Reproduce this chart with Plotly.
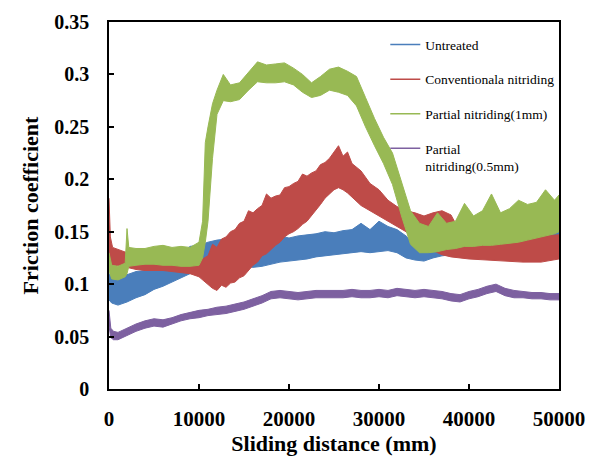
import plotly.graph_objects as go

# ---------------- data ----------------
# Each series is a noisy band: lower and upper envelope of the recorded signal
untreated_x = [0, 300, 1000, 2000, 3000, 4000, 5000, 6000, 7000, 8000, 9000, 10000,
               11000, 12000, 13000, 14000, 15000, 16000, 17000, 18000, 19000, 20000,
               21000, 22000, 23000, 24000, 25000, 26000, 27000, 28000, 29000, 30000,
               31000, 32000, 33000, 34000, 35000, 36000, 37000, 38000, 40000, 42000,
               44000, 46000, 48000, 50000]
untreated_lo = [0.085, 0.082, 0.080, 0.083, 0.087, 0.090, 0.095, 0.098, 0.102, 0.106, 0.110, 0.114,
                0.117, 0.118, 0.118, 0.117, 0.117, 0.116, 0.117, 0.119, 0.121, 0.122,
                0.123, 0.124, 0.126, 0.127, 0.128, 0.129, 0.130, 0.131, 0.130, 0.131,
                0.132, 0.130, 0.125, 0.123, 0.122, 0.125, 0.127, 0.128, 0.130, 0.131,
                0.132, 0.133, 0.134, 0.135]
untreated_hi = [0.110, 0.108, 0.107, 0.109, 0.112, 0.113, 0.115, 0.117, 0.120, 0.128, 0.136, 0.137,
                0.140, 0.142, 0.143, 0.145, 0.146, 0.148, 0.147, 0.145, 0.146, 0.144,
                0.146, 0.147, 0.148, 0.150, 0.149, 0.151, 0.152, 0.158, 0.152, 0.160,
                0.155, 0.152, 0.146, 0.138, 0.134, 0.136, 0.138, 0.140, 0.142, 0.143,
                0.145, 0.146, 0.148, 0.152]

conv_x = [0, 150, 400, 1000, 2000, 3000, 4000, 5000, 6000, 7000, 8000, 9000, 10000,
          11000, 11500, 12000, 12500, 13000, 13500, 14000, 14500, 15000, 15500, 16000,
          16500, 17000, 17500, 18000, 18500, 19000, 19500, 20000, 20500, 21000, 21500,
          22000, 22500, 23000, 23500, 24000, 24500, 25000, 25500, 26000, 26500, 27000,
          28000, 29000, 30000, 31000, 32000, 33000, 34000, 35000, 36000, 37000, 38000,
          39000, 40000, 42000, 44000, 46000, 48000, 50000]
conv_lo = [0.130, 0.120, 0.117, 0.118, 0.116, 0.114, 0.113, 0.113, 0.113, 0.112, 0.111, 0.110, 0.107,
           0.100, 0.096, 0.094, 0.099, 0.097, 0.101, 0.102, 0.106, 0.108, 0.113, 0.118,
           0.121, 0.127, 0.129, 0.133, 0.137, 0.140, 0.145, 0.148, 0.150, 0.153, 0.157,
           0.160, 0.165, 0.170, 0.176, 0.182, 0.186, 0.190, 0.192, 0.190, 0.187, 0.183,
           0.175, 0.170, 0.165, 0.160, 0.155, 0.150, 0.145, 0.138, 0.132, 0.128, 0.126,
           0.125, 0.124, 0.123, 0.122, 0.121, 0.121, 0.124]
conv_hi = [0.182, 0.145, 0.135, 0.133, 0.130, 0.125, 0.125, 0.126, 0.124, 0.125, 0.124, 0.123, 0.122,
           0.127, 0.138, 0.135, 0.143, 0.145, 0.150, 0.152, 0.158, 0.160, 0.170, 0.168,
           0.172, 0.175, 0.186, 0.182, 0.184, 0.185, 0.192, 0.193, 0.196, 0.198, 0.205,
           0.203, 0.206, 0.208, 0.214, 0.216, 0.220, 0.226, 0.232, 0.222, 0.226, 0.215,
           0.208, 0.196, 0.190, 0.180, 0.174, 0.170, 0.168, 0.165, 0.168, 0.170, 0.166,
           0.150, 0.145, 0.146, 0.145, 0.147, 0.146, 0.147]

p1_x = [0, 300, 1000, 1800, 2000, 2200, 3000, 4000, 5000, 6000, 7000, 8000, 9000, 10000,
        10400, 10700, 11000, 11500, 12000, 12700, 13500, 14500, 15500, 16500, 17500,
        18500, 19500, 20500, 21500, 22500, 23500, 24500, 25500, 26500, 27500, 28500,
        29500, 30500, 31500, 32500, 33500, 34500, 35500, 36500, 37500, 38500, 39500,
        40500, 41500, 42500, 43500, 44500, 45500, 46500, 47500, 48500, 49500, 50000]
p1_lo = [0.113, 0.105, 0.104, 0.107, 0.110, 0.117, 0.118, 0.119, 0.119, 0.118, 0.118, 0.117, 0.117, 0.118,
         0.125, 0.140, 0.160, 0.220, 0.262, 0.275, 0.274, 0.276, 0.285, 0.293, 0.292,
         0.292, 0.293, 0.290, 0.283, 0.278, 0.280, 0.285, 0.283, 0.280, 0.270, 0.250,
         0.232, 0.215, 0.195, 0.165, 0.138, 0.130, 0.130, 0.131, 0.133, 0.134, 0.136,
         0.136, 0.137, 0.137, 0.138, 0.139, 0.140, 0.142, 0.144, 0.146, 0.148, 0.150]
p1_hi = [0.130, 0.118, 0.117, 0.120, 0.153, 0.135, 0.134, 0.134, 0.136, 0.137, 0.135, 0.136, 0.135, 0.140,
         0.160, 0.235, 0.250, 0.272, 0.285, 0.300, 0.290, 0.292, 0.302, 0.312, 0.309,
         0.310, 0.311, 0.306, 0.300, 0.292, 0.298, 0.305, 0.307, 0.303, 0.298, 0.278,
         0.258, 0.240, 0.225, 0.198, 0.170, 0.158, 0.155, 0.168, 0.158, 0.160, 0.177,
         0.165, 0.170, 0.186, 0.168, 0.172, 0.180, 0.176, 0.178, 0.190, 0.180, 0.185]

p05_x = [0, 200, 500, 1000, 2000, 3000, 4000, 5000, 6000, 7000, 8000, 9000, 10000, 11000,
         12000, 13000, 14000, 15000, 16000, 17000, 18000, 19000, 20000, 21000, 22000, 23000,
         24000, 25000, 26000, 27000, 28000, 29000, 30000, 31000, 32000, 33000, 34000, 35000,
         36000, 37000, 38000, 39000, 40000, 41000, 42000, 43000, 44000, 45000, 46000, 47000,
         48000, 49000, 50000]
p05_lo = [0.060, 0.049, 0.047, 0.047, 0.051, 0.055, 0.058, 0.060, 0.059, 0.062, 0.065, 0.067, 0.068, 0.070,
          0.071, 0.072, 0.074, 0.076, 0.079, 0.082, 0.086, 0.087, 0.086, 0.085, 0.086, 0.087,
          0.087, 0.087, 0.087, 0.088, 0.087, 0.087, 0.088, 0.087, 0.089, 0.088, 0.087, 0.088,
          0.087, 0.086, 0.084, 0.083, 0.086, 0.088, 0.091, 0.093, 0.089, 0.087, 0.087, 0.086,
          0.086, 0.085, 0.085]
p05_hi = [0.075, 0.058, 0.055, 0.054, 0.058, 0.062, 0.065, 0.067, 0.066, 0.068, 0.071, 0.073, 0.075, 0.076,
          0.078, 0.079, 0.081, 0.083, 0.086, 0.089, 0.093, 0.094, 0.093, 0.092, 0.093, 0.094,
          0.094, 0.094, 0.094, 0.095, 0.094, 0.094, 0.095, 0.094, 0.096, 0.095, 0.094, 0.095,
          0.094, 0.093, 0.091, 0.090, 0.093, 0.095, 0.098, 0.100, 0.096, 0.094, 0.093, 0.092,
          0.092, 0.091, 0.091]

series_names = ["Untreated", "Conventionala nitriding", "Partial nitriding(1mm)",
                "Partial<br>nitriding(0.5mm)"]
x_tick_vals = [0, 10000, 20000, 30000, 40000, 50000]
x_tick_text = ["0", "10000", "20000", "30000", "40000", "50000"]
y_tick_vals = [0, 0.05, 0.1, 0.15, 0.2, 0.25, 0.3, 0.35]
y_tick_text = ["0", "0.05", "0.1", "0.15", "0.2", "0.25", "0.3", "0.35"]

# ---------------- figure ----------------
colors = ["#4A7EBB", "#BE4B48", "#98B954", "#7D60A0"]
series = [
    (untreated_x, untreated_lo, untreated_hi),
    (conv_x, conv_lo, conv_hi),
    (p1_x, p1_lo, p1_hi),
    (p05_x, p05_lo, p05_hi),
]

fig = go.Figure()
for (xs, lo, hi), col, name in zip(series, colors, series_names):
    fig.add_trace(go.Scatter(
        x=list(xs) + list(xs)[::-1],
        y=list(lo) + list(hi)[::-1],
        mode="lines", fill="toself", fillcolor=col,
        line=dict(color=col, width=1),
        showlegend=False, hoverinfo="skip",
    ))
for i, (col, name) in enumerate(zip(colors, series_names)):
    fig.add_trace(go.Scatter(
        x=[None], y=[None], mode="lines", name=name,
        legendgroup="g%d" % i,
        line=dict(color=col, width=1.5),
    ))

tick_font = dict(family="Liberation Serif", size=20, color="black", weight="bold")
x_tick_font = dict(family="Liberation Serif", size=21, color="black", weight="bold")
title_font = dict(family="Liberation Serif", size=22, color="black", weight="bold")

# page body has an 8px margin, so the plot area is offset accordingly
fig.update_layout(
    width=603, height=459,
    margin=dict(l=101, r=52, t=14, b=78, autoexpand=False),
    paper_bgcolor="white", plot_bgcolor="white",
    legend=dict(
        x=0.614, y=0.98, xanchor="left", yanchor="top",
        font=dict(family="Liberation Serif", size=13.5, color="black"),
        bgcolor="rgba(0,0,0,0)", borderwidth=0,
        tracegroupgap=14, valign="top", itemwidth=30,
    ),
)
fig.update_xaxes(
    range=[0, 50000], tickvals=x_tick_vals, ticktext=x_tick_text,
    ticks="inside", ticklen=5, tickwidth=1.5, tickcolor="black",
    showline=True, linecolor="black", linewidth=1.5, mirror=True,
    showgrid=False, zeroline=False,
    tickfont=x_tick_font, ticklabelstandoff=10,
    title=dict(text="Sliding distance (mm)", font=title_font, standoff=5),
)
fig.update_yaxes(
    range=[0, 0.35], tickvals=y_tick_vals, ticktext=y_tick_text,
    ticks="inside", ticklen=5, tickwidth=1.5, tickcolor="black",
    showline=True, linecolor="black", linewidth=1.5, mirror=True,
    showgrid=False, zeroline=False,
    tickfont=tick_font, ticklabelstandoff=14,
    title=dict(text="Friction coefficient", font=title_font, standoff=10),
)

fig.write_html("out.html")
